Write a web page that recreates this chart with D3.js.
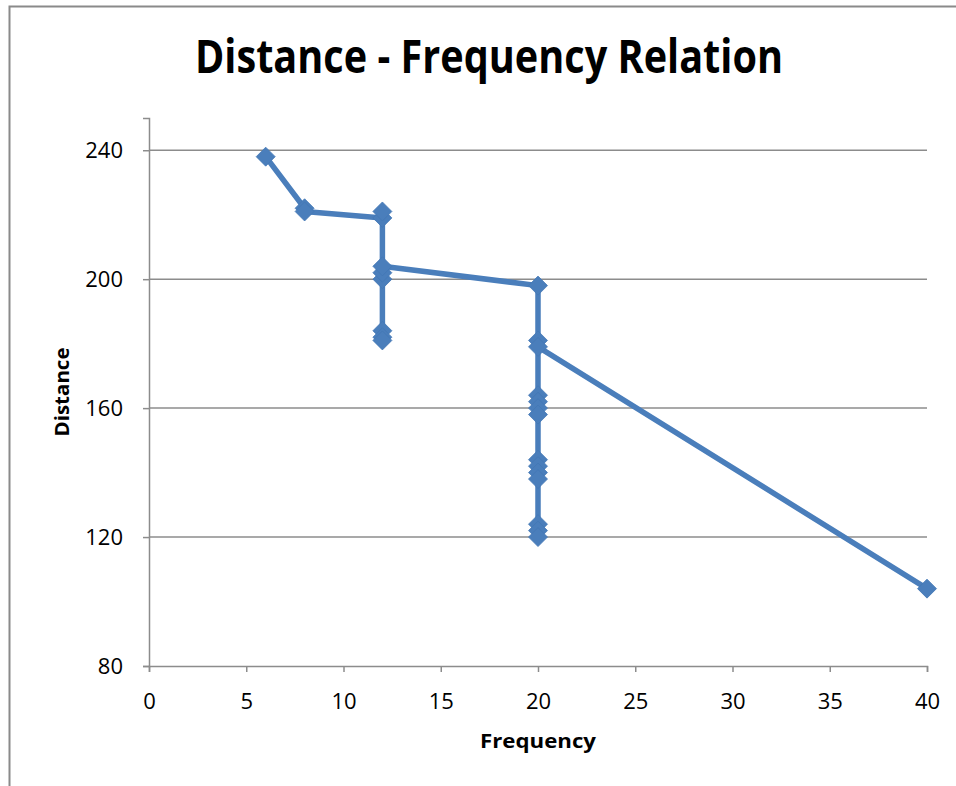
<!DOCTYPE html>
<html>
<head>
<meta charset="utf-8">
<script src="https://cdn.jsdelivr.net/npm/d3@7"></script>
<style>
  html, body { margin: 0; padding: 0; background: #ffffff; }
  svg { display: block; }
</style>
</head>
<body>
<svg id="chart" width="956" height="786"></svg>
<script>
// ---- Data (in series order) ----
const frequency = [6, 8, 8, 12, 12, 12, 12, 12, 12, 12, 12,
                   20, 20, 20, 20, 20, 20, 20, 20, 20, 20, 20, 20, 20, 20, 40];
const distance  = [238, 222, 221, 219, 221, 184, 182, 181, 200, 202, 204,
                   198, 164, 162, 160, 158, 144, 142, 140, 138, 124, 122, 120, 181, 179, 104];
const xTicks = [0, 5, 10, 15, 20, 25, 30, 35, 40];
const yTicks = [80, 120, 160, 200, 240];
const titleText = "Distance - Frequency Relation";
const xTitle = "Frequency";
const yTitle = "Distance";

const points = frequency.map((f, i) => ({ x: f, y: distance[i] }));

const svg = d3.select("#chart");
const gridColor = "#8c8c8c";
const seriesColor = "#4a7ebb";
const font = "'Open Sans', 'Noto Sans', sans-serif";

// chart border (top and left visible)
svg.append("path")
  .attr("d", "M9.5,790 L9.5,6.5 L960,6.5")
  .attr("fill", "none")
  .attr("stroke", "#8a8a8a")
  .attr("stroke-width", 2);

const x = d3.scaleLinear().domain([0, 40]).range([149, 927]);
const y = d3.scaleLinear().domain([80, 250]).range([666, 118]);

// gridlines
svg.append("g")
  .selectAll("line")
  .data(yTicks.filter(t => t > 80))
  .join("line")
  .attr("x1", x(0)).attr("x2", x(40))
  .attr("y1", d => y(d)).attr("y2", d => y(d))
  .attr("stroke", gridColor).attr("stroke-width", 1.5);

// x axis
const xAxis = svg.append("g")
  .attr("transform", `translate(0,${y(80)})`)
  .call(d3.axisBottom(x).tickValues(xTicks).tickSize(6).tickPadding(21).tickFormat(d3.format("d")));
xAxis.select(".domain").attr("stroke", gridColor).attr("stroke-width", 1.5);
xAxis.selectAll(".tick line").attr("stroke", gridColor).attr("stroke-width", 1.5);
xAxis.selectAll(".tick text")
  .attr("fill", "#000").attr("font-family", font).attr("font-size", 22);

// y axis
const yAxis = svg.append("g")
  .attr("transform", `translate(${x(0)},0)`)
  .call(d3.axisLeft(y).tickValues(yTicks).tickSize(6).tickPadding(20).tickFormat(d3.format("d")));
yAxis.select(".domain").attr("stroke", gridColor).attr("stroke-width", 1.5);
yAxis.selectAll(".tick line").attr("stroke", gridColor).attr("stroke-width", 1.5);
yAxis.selectAll(".tick text")
  .attr("fill", "#000").attr("font-family", font).attr("font-size", 22);

// line
const line = d3.line().x(d => x(d.x)).y(d => y(d.y));
svg.append("path")
  .datum(points)
  .attr("d", line)
  .attr("fill", "none")
  .attr("stroke", seriesColor)
  .attr("stroke-width", 5.5)
  .attr("stroke-linejoin", "round");

// diamond markers
const r = 9.5;
svg.append("g")
  .selectAll("path")
  .data(points)
  .join("path")
  .attr("transform", d => `translate(${x(d.x)},${y(d.y)})`)
  .attr("d", `M0,${-r} L${r},0 L0,${r} L${-r},0 Z`)
  .attr("fill", seriesColor)
  .attr("stroke", "#4377b5")
  .attr("stroke-width", 0.8);

// title
svg.append("text")
  .attr("x", 489).attr("y", 73)
  .attr("text-anchor", "middle")
  .attr("font-family", font).attr("font-weight", "bold").attr("font-size", 46)
  .attr("textLength", 588).attr("lengthAdjust", "spacingAndGlyphs")
  .attr("fill", "#000")
  .text(titleText);

// x axis title
svg.append("text")
  .attr("x", 538).attr("y", 748)
  .attr("text-anchor", "middle")
  .attr("font-family", font).attr("font-weight", "bold").attr("font-size", 19)
  .attr("textLength", 116).attr("lengthAdjust", "spacingAndGlyphs")
  .attr("fill", "#000")
  .text(xTitle);

// y axis title
svg.append("text")
  .attr("transform", "translate(69,392) rotate(-90)")
  .attr("text-anchor", "middle")
  .attr("font-family", font).attr("font-weight", "bold").attr("font-size", 19)
  .attr("textLength", 89).attr("lengthAdjust", "spacingAndGlyphs")
  .attr("fill", "#000")
  .text(yTitle);
</script>
</body>
</html>
